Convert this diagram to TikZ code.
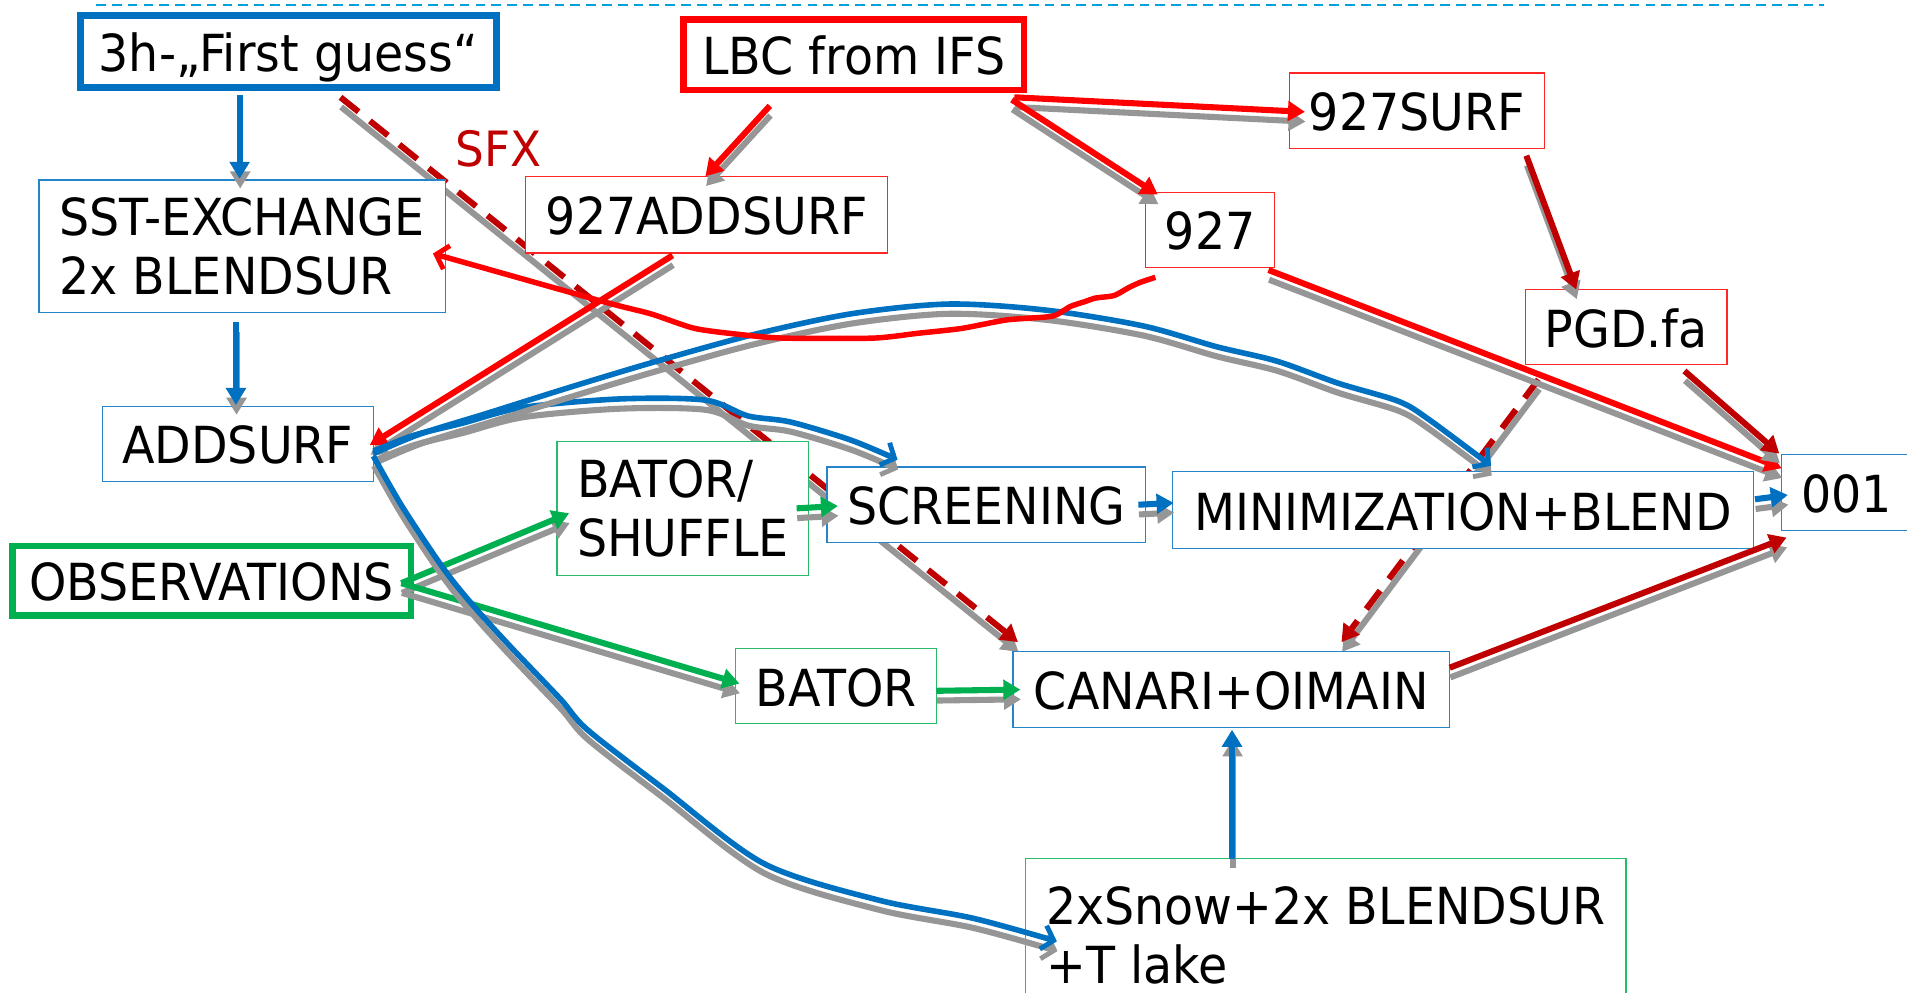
\documentclass[tikz,border=0pt]{standalone}
\usepackage{fontspec}
\setmainfont[FakeStretch=0.93]{DejaVu Sans}
\usetikzlibrary{arrows.meta,calc,backgrounds}
\definecolor{cred}{RGB}{255,0,0}
\definecolor{cdred}{RGB}{192,0,0}
\definecolor{cblue}{RGB}{0,112,192}
\definecolor{cgreen}{RGB}{0,176,80}
\definecolor{cshadow}{RGB}{150,150,150}
\definecolor{ctop}{RGB}{0,160,220}
\begin{document}
\begin{tikzpicture}[x=1pt,y=-1pt,
  every node/.style={font=\fontsize{42}{48}\selectfont, inner sep=0pt, outer sep=0pt, anchor=north west, fill=white},
  one/.style={text height=33pt, text depth=0pt},
  thinbox/.style={draw, line width=1pt},
  thickbox/.style={draw, line width=5.5pt},
  shadowed/.style={preaction={draw=cshadow, line width=5pt, transform canvas={shift={(0.5,8)}}}},
  conn/.style={line width=5pt, shadowed, -{Triangle[length=14pt,width=16pt]}},
  oconn/.style={line width=4.6pt, shadowed, -{Straight Barb[length=9pt,width=20pt,line width=4pt]}},
  dconn/.style={line width=5pt, dash pattern=on 19pt off 12pt, shadowed, -{Triangle[length=14pt,width=16pt]}}
]
\useasboundingbox (0,0) rectangle (1568,816);
\draw[ctop, line width=1.5pt, dash pattern=on 8pt off 5pt] (79,4) -- (1500,4);

% boxes
\node[one, thickbox, draw=cblue, minimum width=342pt, minimum height=59pt] (fg) at (66,13) {3h-„First guess“};
\node[one, thickbox, draw=cred, minimum width=280pt, minimum height=58pt] (lbc) at (562,16) {LBC from IFS};
\node[one, thickbox, draw=cgreen, minimum width=328pt, minimum height=57pt] (obs) at (10,449) {OBSERVATIONS};
\node[one, thinbox, draw=cred!85, minimum width=210pt, minimum height=62pt] (s927surf) at (1060,60) {927SURF};
\node[one, thinbox, draw=cred!85, minimum width=298pt, minimum height=63pt] (add927) at (432,145) {927ADDSURF};
\node[one, thinbox, draw=cred!85, minimum width=106pt, minimum height=62pt] (n927) at (942,158) {927};
\node[thinbox, draw=cblue!85, minimum width=334pt, minimum height=109pt, align=left] (sst) at (32,148) {SST-EXCHANGE\\2x BLENDSUR};
\node[one, thinbox, draw=cred!85, minimum width=166pt, minimum height=62pt] (pgd) at (1254,238) {PGD.fa};
\node[one, thinbox, draw=cblue!85, minimum width=223pt, minimum height=62pt] (addsurf) at (84,334) {ADDSURF};
\node[thinbox, draw=cgreen!85, minimum width=207pt, minimum height=110pt, align=left] (batsh) at (458,363) {BATOR/\\SHUFFLE};
\node[one, thinbox, draw=cblue!85, minimum width=262pt, minimum height=62pt] (scr) at (680,384) {SCREENING};
\node[one, thinbox, draw=cblue!85, minimum width=478pt, minimum height=63pt] (mini) at (964,388) {MINIMIZATION+BLEND};
\node[one, thinbox, draw=cblue!85, minimum width=107pt, minimum height=62pt] (n001) at (1465,374) {001};
\node[one, thinbox, draw=cgreen!85, minimum width=165pt, minimum height=62pt] (bator) at (605,533) {BATOR};
\node[one, thinbox, draw=cblue!85, minimum width=359pt, minimum height=62pt] (canari) at (833,536) {CANARI+OIMAIN};
\node[thinbox, draw=cgreen!85, minimum width=494pt, minimum height=126pt, align=left] (snow) at (843,706) {2xSnow+2x BLENDSUR\\+T lake};
\node[fill=none, text=cdred, anchor=center, font=\fontsize{40}{48}\selectfont] (sfx) at (410,122) {SFX};

% dashed connectors behind boxes
\begin{pgfonlayer}{background}
\fill[white] (0,0) rectangle (1568,816);
\draw[dconn, cdred] ($(fg.south west)+(214,8)$) -- ($(canari.north west)+(4,-8)$);
\draw[dconn, cdred] ($(pgd.south west)+(11,12)$) -- ($(canari.north west)+(270,-8)$);
\end{pgfonlayer}

% straight connectors
\draw[conn, cblue] ($(fg.south west)+(131,6)$) -- ($(sst.north west)+(165,-1)$);
\draw[conn, cblue] ($(sst.south west)+(162,8)$) -- ($(addsurf.north west)+(110,-1)$);
\draw[conn, cred] ($(lbc.south west)+(71,13)$) -- ($(add927.north west)+(148,0)$);
\draw[conn, cred] ($(lbc.south east)+(-8,6)$) -- ($(s927surf.west)+(13,1)$);
\draw[conn, cred] ($(lbc.south east)+(-10,8)$) -- ($(n927.north west)+(10,2)$);
\draw[conn, cred] ($(add927.south west)+(121,2)$) -- ($(addsurf.east)+(-3,1)$);
\draw[conn, cred] ($(n927.south east)+(-5,2)$) -- ($(n001.north west)+(0,11)$);
\draw[conn, cdred] ($(s927surf.south west)+(195,6)$) -- ($(pgd.north west)+(42,0)$);
\draw[conn, cdred] ($(pgd.south west)+(131,5)$) -- ($(n001.north west)+(-2,-1)$);
\draw[conn, cdred] ($(canari.north east)+(0,13)$) -- ($(n001.south west)+(4,6)$);
\draw[conn, cgreen] ($(batsh.east)+(-10,0)$) -- ($(scr.west)+(9,1)$);
\draw[conn, cblue] ($(scr.east)+(-6,0)$) -- ($(mini.west)+(1,-6)$);
\draw[conn, cblue] ($(mini.east)+(1,-9)$) -- ($(n001.west)+(5,2)$);
\draw[conn, cgreen] ($(bator.east)+(0,4)$) -- ($(canari.west)+(6,0)$);
\draw[conn, cgreen] ($(obs.east)+(-8,2)$) -- ($(batsh.west)+(10,4)$);
\draw[conn, cgreen] ($(obs.east)+(-8,2)$) -- ($(bator.west)+(3,-2)$);
\draw[conn, cblue] ($(snow.north west)+(170,0)$) -- ($(canari.south)+(0.5,2)$);

% curved connectors
\coordinate (c1s) at ($(addsurf.east)+(0,6)$);
\coordinate (c1e) at ($(scr.north west)+(58,-6)$);
\coordinate (c2s) at ($(addsurf.east)+(0,8)$);
\coordinate (c2e) at ($(mini.north west)+(262,-5)$);
\coordinate (c3s) at ($(addsurf.east)+(0,10)$);
\coordinate (c3e) at ($(snow.north west)+(26,68)$);
\coordinate (c4s) at ($(n927.south west)+(8,8)$);
\coordinate (c4e) at ($(sst.east)+(-10,6)$);

\draw[oconn, cblue] plot[smooth, tension=0.5] coordinates {(c1s) (340,358) (380,348) (430,335) (510,328) (580,329) (615,342) (650,347) (700,362) (c1e)};
\draw[oconn, cblue] plot[smooth, tension=0.5] coordinates {(c2s) (345,357) (400,340) (470,318) (540,297) (620,275) (700,258) (780,250) (860,255) (940,268) (1000,285) (1050,297) (1100,315) (1150,330) (1175,345) (c2e)};
\draw[oconn, cblue] plot[smooth, tension=0.5] coordinates {(c3s) (331,417) (365,468) (390,499) (420,532) (461,575) (483,600) (545,648) (628,710) (722,740) (800,755) (c3e)};
\draw[line width=4.5pt, cred, -{Straight Barb[length=9pt,width=20pt,line width=4pt]}] plot[smooth, tension=0.4] coordinates {(c4s) (938,232) (929,236) (916,243) (901,245) (892,248) (880,252) (865,260) (828,263) (791,270) (755,274) (718,278) (644,278) (608,275) (571,270) (535,258) (496,248) (c4e)};
\end{tikzpicture}
\end{document}
